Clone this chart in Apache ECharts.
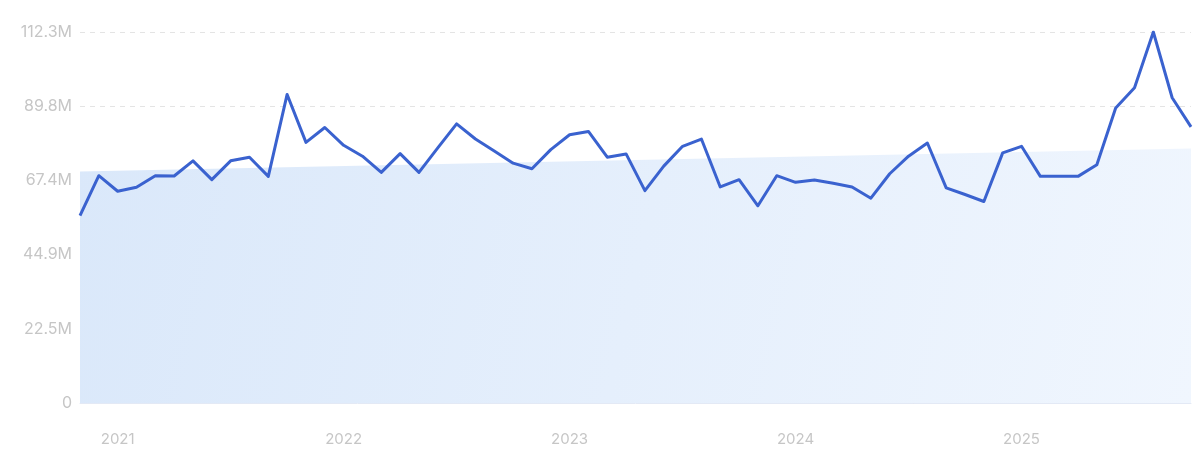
<!DOCTYPE html>
<html>
<head>
<meta charset="utf-8">
<script src="https://cdn.jsdelivr.net/npm/echarts@6/dist/echarts.min.js"></script>
<style>
  html, body { margin: 0; padding: 0; background: #ffffff; }
  #chart { width: 1200px; height: 457px; }
</style>
</head>
<body>
<div id="chart"></div>
<script>
// Months from Nov 2020 to Oct 2025
const months = [
  "2020-11","2020-12",
  "2021-01","2021-02","2021-03","2021-04","2021-05","2021-06","2021-07","2021-08","2021-09","2021-10","2021-11","2021-12",
  "2022-01","2022-02","2022-03","2022-04","2022-05","2022-06","2022-07","2022-08","2022-09","2022-10","2022-11","2022-12",
  "2023-01","2023-02","2023-03","2023-04","2023-05","2023-06","2023-07","2023-08","2023-09","2023-10","2023-11","2023-12",
  "2024-01","2024-02","2024-03","2024-04","2024-05","2024-06","2024-07","2024-08","2024-09","2024-10","2024-11","2024-12",
  "2025-01","2025-02","2025-03","2025-04","2025-05","2025-06","2025-07","2025-08","2025-09","2025-10"
];

// Monthly values (millions)
const values = [
  56.7, 68.8,
  64.1, 65.3, 68.8, 68.7, 73.3, 67.6, 73.3, 74.4, 68.6, 93.4, 78.9, 83.4,
  78.0, 74.7, 69.8, 75.5, 69.8, 77.2, 84.5, 79.9, 76.3, 72.6, 70.9, 76.7,
  81.2, 82.2, 74.4, 75.4, 64.3, 71.7, 77.7, 79.9, 65.4, 67.6, 59.7, 68.8,
  66.8, 67.5, 66.5, 65.4, 62.0, 69.4, 74.7, 78.7, 65.1, 63.1, 61.0, 75.7,
  77.7, 68.6, 68.6, 68.6, 72.1, 89.3, 95.4, 112.3, 92.4, 83.6
];

// Trend band endpoints (millions): first and last month
const trendStart = 70.1;
const trendEnd = 77.0;

const yMax = 112.3;
const yStep = 22.46;

const trendData = months.map((m, i) => i === 0 ? trendStart * 1e6 : (i === months.length - 1 ? trendEnd * 1e6 : null));

const chart = echarts.init(document.getElementById('chart'), null, { renderer: 'canvas' });

const option = {
  animation: false,
  backgroundColor: '#ffffff',
  grid: { left: 80, right: 9, top: 32, bottom: 54, containLabel: false },
  xAxis: {
    type: 'category',
    data: months,
    boundaryGap: false,
    axisLine: { show: true, lineStyle: { color: '#e3e9f5', width: 1 } },
    axisTick: { show: false },
    axisLabel: {
      color: '#c6c6c6',
      fontFamily: 'Inter, "Open Sans", sans-serif',
      fontSize: 15,
      margin: 29,
      interval: (idx, val) => val.endsWith('-01'),
      formatter: (val) => val.slice(0, 4)
    },
    splitLine: { show: false }
  },
  yAxis: {
    type: 'value',
    min: 0,
    max: yMax * 1e6,
    interval: yStep * 1e6,
    axisLine: { show: false },
    axisTick: { show: false },
    axisLabel: {
      color: '#c6c6c6',
      fontFamily: 'Inter, "Open Sans", sans-serif',
      fontSize: 16,
      margin: 8,
      formatter: (v) => v === 0 ? '0' : (v / 1e6).toFixed(1) + 'M'
    },
    splitLine: { show: true, lineStyle: { color: '#e4e4e4', type: [5, 5], width: 1 } }
  },
  series: [
    {
      name: 'Trend',
      type: 'line',
      data: trendData,
      connectNulls: true,
      symbol: 'none',
      lineStyle: { width: 0 },
      areaStyle: {
        opacity: 1,
        color: new echarts.graphic.LinearGradient(0, 0, 1, 1, [
          { offset: 0, color: '#dae8fa' },
          { offset: 1, color: '#f0f6fe' }
        ])
      },
      silent: true,
      z: 1
    },
    {
      name: 'Value',
      type: 'line',
      data: values.map(v => v * 1e6),
      symbol: 'none',
      lineStyle: { color: '#3a62cf', width: 3, join: 'round' },
      z: 3
    }
  ]
};

chart.setOption(option);
</script>
</body>
</html>
